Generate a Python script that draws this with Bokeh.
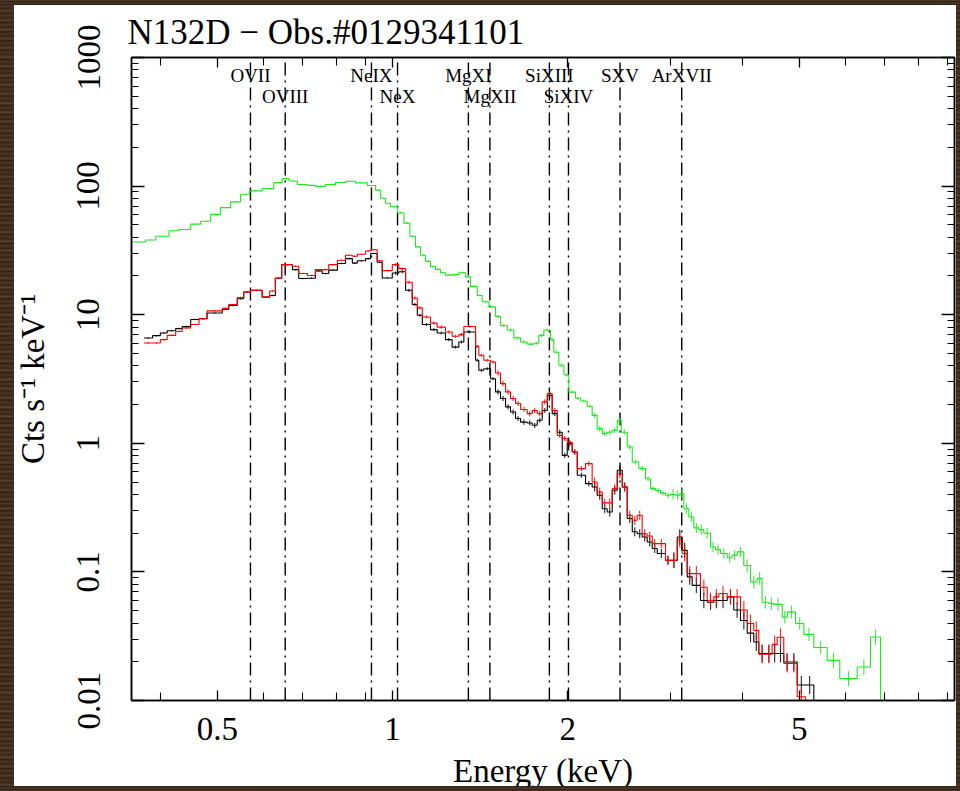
import math
from bokeh.plotting import figure
from bokeh.models import FixedTicker, CustomJSTickFormatter, LogAxis, Range1d, InlineStyleSheet
from bokeh.embed import file_html
from bokeh.resources import INLINE
from bokeh.core.properties import value

FONT = "Liberation Serif"

TITLE = "N132D \u2212 Obs.#0129341101"
XLABEL = "Energy (keV)"
YLABEL = "Cts s\u207b\u00b9 keV\u207b\u00b9"

# ---------------- data ----------------
# EPIC-pn (green): bin edges in keV and count rates (cts/s/keV)
pn_edges = [0.357, 0.376, 0.392, 0.413, 0.429, 0.450, 0.468, 0.487, 0.506, 0.527,
            0.548, 0.568, 0.597, 0.625, 0.646, 0.664, 0.686, 0.714, 0.737, 0.767,
            0.798, 0.830, 0.864, 0.905, 0.935, 0.954, 0.973, 0.992, 1.019, 1.046,
            1.071, 1.095, 1.117, 1.139, 1.162, 1.185, 1.209, 1.233, 1.266, 1.300,
            1.335, 1.361, 1.398, 1.426, 1.464, 1.503, 1.533, 1.574, 1.616, 1.660,
            1.704, 1.749, 1.784, 1.820, 1.868, 1.893, 1.931, 1.970, 2.009, 2.063,
            2.104, 2.160, 2.203, 2.247, 2.293, 2.338, 2.385, 2.433, 2.472, 2.531,
            2.582, 2.650, 2.721, 2.776, 2.831, 2.887, 2.945, 3.004, 3.064, 3.116,
            3.167, 3.230, 3.294, 3.360, 3.427, 3.519, 3.589, 3.661, 3.759, 3.834,
            3.911, 4.014, 4.122, 4.232, 4.315, 4.432, 4.521, 4.674, 4.768, 4.927,
            5.091, 5.296, 5.583, 5.869, 6.288, 6.627, 6.895]
pn_rate = [36.8, 38.1, 40.7, 45.0, 46.0, 50.6, 53.3, 60.3, 68.0, 75.4,
           86.5, 91.8, 95.7, 106.5, 114.4, 109.5, 103.0, 101.3, 99.5, 103.0,
           106.7, 109.0, 106.0, 101.0, 93.0, 80.5, 73.6, 69.0, 62.0, 51.5,
           40.7, 33.7, 29.0, 26.0, 23.7, 22.5, 21.2, 20.3, 20.5, 21.2,
           19.7, 16.6, 14.1, 12.6, 11.5, 9.7, 8.25, 7.6, 6.6, 6.13,
           5.9, 6.0, 6.9, 7.6, 6.4, 5.1, 4.04, 3.4, 2.5, 2.24,
           2.13, 1.94, 1.65, 1.30, 1.19, 1.22, 1.26, 1.51, 1.22, 0.936,
           0.716, 0.636, 0.53, 0.444, 0.43, 0.41, 0.394, 0.40, 0.394, 0.406,
           0.31, 0.267, 0.22, 0.213, 0.20, 0.156, 0.149, 0.139, 0.129, 0.135,
           0.143, 0.112, 0.0834, 0.089, 0.058, 0.0567, 0.0559, 0.0445, 0.0489, 0.0397,
           0.0327, 0.0258, 0.0205, 0.0148, 0.0182, 0.0312]

# EPIC-MOS1 (black) and MOS2 (red): common bin edges in keV
mos_edges = [0.374, 0.387, 0.399, 0.410, 0.424, 0.435, 0.450, 0.465, 0.480, 0.510,
             0.523, 0.541, 0.555, 0.570, 0.597, 0.615, 0.629, 0.645, 0.673, 0.690,
             0.714, 0.737, 0.757, 0.777, 0.804, 0.830, 0.853, 0.870, 0.899, 0.917,
             0.941, 0.960, 0.999, 1.025, 1.053, 1.081, 1.103, 1.125, 1.162, 1.193,
             1.233, 1.266, 1.300, 1.326, 1.389, 1.407, 1.435, 1.474, 1.503, 1.533,
             1.564, 1.595, 1.627, 1.660, 1.704, 1.738, 1.773, 1.808, 1.845, 1.881,
             1.919, 1.957, 1.996, 2.036, 2.077, 2.146, 2.203, 2.247, 2.293, 2.338,
             2.385, 2.433, 2.482, 2.531, 2.582, 2.633, 2.685, 2.739, 2.794, 2.850,
             2.945, 3.004, 3.085, 3.146, 3.209, 3.273, 3.382, 3.473, 3.565, 3.637,
             3.759, 3.858, 3.962, 4.069, 4.176, 4.260, 4.374, 4.491, 4.581, 4.702,
             4.829, 4.959, 5.124, 5.296]
mos1_rate = [6.59, 6.87, 7.2, 7.5, 7.8, 8.1, 9.17, 9.3, 10.3, 11.0,
             11.8, 13.3, 15.0, 15.5, 13.7, 14.1, 19.2, 24.5, 22.4, 19.1,
             19.2, 21.9, 20.9, 22.2, 25.0, 27.3, 25.2, 26.3, 27.3, 29.9,
             25.6, 19.3, 21.1, 21.6, 15.5, 12.0, 9.9, 8.4, 7.66, 7.2,
             6.4, 5.6, 6.13, 7.34, 4.42, 3.7, 3.8, 3.18, 2.51, 2.23,
             1.92, 1.75, 1.56, 1.46, 1.44, 1.38, 1.51, 1.80, 2.36, 1.70,
             1.22, 0.806, 0.995, 0.856, 0.564, 0.486, 0.457, 0.394, 0.31, 0.292,
             0.431, 0.617, 0.457, 0.26, 0.205, 0.198, 0.187, 0.171, 0.152, 0.139,
             0.123, 0.123, 0.187, 0.147, 0.0914, 0.0786, 0.06, 0.058, 0.06, 0.06,
             0.064, 0.0506, 0.0419, 0.0334, 0.0285, 0.0232, 0.0232, 0.0232, 0.0232, 0.0199,
             0.0199, 0.0132, 0.0132]
mos2_rate = [6.03, 6.03, 6.4, 6.9, 7.4, 7.9, 8.4, 9.3, 10.7, 11.2,
             12.0, 13.6, 15.0, 15.5, 13.7, 15.3, 19.3, 24.5, 23.8, 20.9,
             20.2, 22.4, 22.4, 24.5, 26.5, 29.0, 28.5, 29.5, 31.3, 32.0,
             26.3, 22.0, 24.5, 22.8, 17.9, 13.5, 11.3, 9.6, 8.6, 8.0,
             7.34, 6.8, 7.0, 8.1, 5.67, 4.84, 4.42, 4.29, 3.52, 2.91,
             2.51, 2.23, 2.04, 1.83, 1.70, 1.80, 1.70, 2.10, 2.44, 1.80,
             1.15, 1.09, 1.02, 0.856, 0.636, 0.695, 0.50, 0.418, 0.344, 0.344,
             0.444, 0.58, 0.457, 0.276, 0.252, 0.276, 0.198, 0.19, 0.166, 0.166,
             0.123, 0.123, 0.178, 0.139, 0.097, 0.097, 0.076, 0.06, 0.064, 0.068,
             0.064, 0.064, 0.0506, 0.0397, 0.035, 0.0229, 0.0229, 0.0273, 0.031, 0.0194,
             0.0194, 0.0107, 0.0085]

# approximate error-bar half lengths (in dex) read per energy band
err_band_edges = [0.3, 1.0, 1.5, 2.2, 3.0, 4.0, 5.5, 10.0]
mos_err_dex = [0.006, 0.012, 0.02, 0.035, 0.06, 0.07, 0.08]
pn_err_dex = [0.004, 0.007, 0.012, 0.02, 0.04, 0.05, 0.06]

# emission line identifications
line_names = ["OVII", "OVIII", "NeIX", "NeX", "MgXI", "MgXII", "SiXIII", "SiXIV", "SXV", "ArXVII"]
line_energies = [0.57, 0.654, 0.92, 1.02, 1.35, 1.47, 1.86, 2.006, 2.46, 3.14]
line_row = [0, 1, 0, 1, 0, 1, 0, 1, 0, 0]

x_ticks = [0.5, 1, 2, 5]
x_minor_ticks = [0.4, 0.6, 0.7, 0.8, 0.9, 3, 4, 6, 7, 8, 9]
y_ticks = [0.01, 0.1, 1, 10, 100, 1000]
y_minor_ticks = [m * 10.0 ** k for k in range(-2, 3) for m in range(2, 10)]

X_MIN, X_MAX = 0.356, 9.24
Y_MIN, Y_MAX = 0.01, 1000.0

# wooden frame drawn over the page edges
frame_css = InlineStyleSheet(css="""
:host { position: relative; }
:host::after {
  content: "";
  position: absolute;
  left: 0; top: 0; right: 0; bottom: 0;
  box-sizing: border-box;
  border-style: solid;
  border-width: 5px 4px 5px 14px;
  border-color: #3b2a1d;
  border-image: repeating-linear-gradient(180deg, #3b2a1d 0px, #574030 2px, #2e2116 4px, #4a3524 6px, #35261a 9px) 14;
  pointer-events: none;
  z-index: 100;
}
""")

# ---------------- figure ----------------
W, H = 960, 791
p = figure(width=W, height=H, x_axis_type="log", y_axis_type="log",
           x_range=Range1d(X_MIN, X_MAX), y_range=Range1d(Y_MIN, Y_MAX),
           output_backend="svg", toolbar_location=None,
           min_border_left=131, min_border_right=6, min_border_top=57, min_border_bottom=90,
           stylesheets=[frame_css])
p.background_fill_color = "white"
p.border_fill_color = "white"
p.grid.visible = False
p.outline_line_color = "black"
p.outline_line_width = 1.5

p.title.text = TITLE
p.title.text_font = FONT
p.title.text_font_size = "35px"
p.title.text_font_style = "normal"
p.title.text_color = "black"
p.title.align = "left"
p.title.offset = -4
p.title.standoff = 12

# line identifications
n = len(line_energies)
p.segment(x0=line_energies, y0=[Y_MIN] * n, x1=line_energies, y1=[Y_MAX] * n,
          line_color="black", line_width=1.4, line_dash="13 5 2 5")
row_y = [720.0, 500.0]
p.text(x=line_energies, y=[row_y[r] for r in line_row], text=line_names,
       text_align="center", text_baseline="middle", text_color="black",
       text_font=value(FONT), text_font_size="19px")


def band_lookup(e, edges, vals):
    for i in range(len(vals)):
        if edges[i] <= e < edges[i + 1]:
            return vals[i]
    return vals[-1]


def draw_spectrum(edges, rates, err_dex, color):
    xs, ys = [], []
    for i, r in enumerate(rates):
        xs += [edges[i], edges[i + 1]]
        ys += [r, r]
    xs.append(edges[-1])
    ys.append(Y_MIN * 0.1)
    p.line(xs, ys, line_color=color, line_width=1.1)
    cx = [math.sqrt(edges[i] * edges[i + 1]) for i in range(len(rates))]
    h = [band_lookup(c, err_band_edges, err_dex) for c in cx]
    lo = [r * 10 ** (-hh) for r, hh in zip(rates, h)]
    hi = [r * 10 ** hh for r, hh in zip(rates, h)]
    p.segment(x0=cx, y0=lo, x1=cx, y1=hi, line_color=color, line_width=1.1, line_alpha=0.85)


draw_spectrum(pn_edges, pn_rate, pn_err_dex, "#1ee81e")
draw_spectrum(mos_edges, mos1_rate, mos_err_dex, "black")
draw_spectrum(mos_edges, mos2_rate, mos_err_dex, "#ff0000")

# ---------------- axes ----------------
num_fmt = CustomJSTickFormatter(code="return tick.toString();")
blank_fmt = CustomJSTickFormatter(code="return '';")

xa = p.xaxis[0]
xa.ticker = FixedTicker(ticks=x_ticks, minor_ticks=x_minor_ticks)
xa.formatter = num_fmt
xa.axis_label = XLABEL

ya = p.yaxis[0]
ya.ticker = FixedTicker(ticks=y_ticks, minor_ticks=y_minor_ticks)
ya.formatter = num_fmt
ya.axis_label = YLABEL
ya.major_label_orientation = "vertical"

top = LogAxis(ticker=FixedTicker(ticks=x_ticks, minor_ticks=x_minor_ticks), formatter=blank_fmt)
right = LogAxis(ticker=FixedTicker(ticks=y_ticks, minor_ticks=y_minor_ticks), formatter=blank_fmt)
p.add_layout(top, "above")
p.add_layout(right, "right")

for ax in [xa, top]:
    ax.major_tick_in = 10
    ax.minor_tick_in = 8
for ax in [ya, right]:
    ax.major_tick_in = 13
    ax.minor_tick_in = 7

for ax in [xa, ya, top, right]:
    ax.major_tick_out = 0
    ax.minor_tick_out = 0
    ax.axis_line_color = "black"
    ax.axis_line_width = 1.5
    ax.major_tick_line_color = "black"
    ax.minor_tick_line_color = "black"
    ax.major_tick_line_width = 1.3
    ax.minor_tick_line_width = 1.1
    ax.major_label_text_font = FONT
    ax.major_label_text_font_size = "33px"
    ax.major_label_text_color = "black"
    ax.axis_label_text_font = FONT
    ax.axis_label_text_font_size = "33px"
    ax.axis_label_text_font_style = "normal"
    ax.axis_label_text_color = "black"

for ax in [top, right]:
    ax.major_label_text_font_size = "0px"
    ax.major_label_standoff = 0

xa.major_label_standoff = 17
xa.axis_label_standoff = 10
ya.major_label_standoff = 32
ya.axis_label_standoff = 24

open("out.html", "w").write(file_html(p, INLINE))
